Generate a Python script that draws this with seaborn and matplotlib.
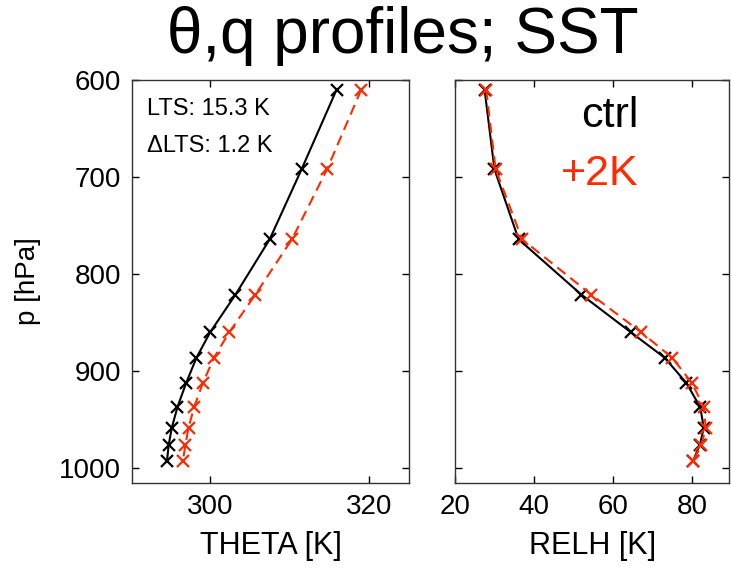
import numpy as np
import pandas as pd
import seaborn as sns
from matplotlib import pyplot as plt

# pressure levels [hPa]
p = [610, 692, 764, 821, 860, 886, 912, 937, 958, 976, 992]

theta_ctrl = [315.9, 311.5, 307.5, 303.2, 300.0, 298.3, 297.0, 295.9, 295.2, 294.8, 294.6]
theta_2k = [319.0, 314.7, 310.3, 305.7, 302.4, 300.5, 299.1, 298.0, 297.3, 296.9, 296.6]

relh_ctrl = [27.5, 30.0, 36.1, 52.0, 64.6, 73.1, 78.6, 82.1, 83.0, 82.0, 80.3]
relh_2k = [27.9, 30.3, 37.0, 54.5, 67.2, 75.0, 80.0, 83.0, 83.5, 82.4, 80.3]

red = "#ff2a00"

sns.set_style("ticks")
plt.rcParams["font.family"] = ["Liberation Sans", "DejaVu Sans"]
plt.rcParams["text.color"] = "k"
plt.rcParams["axes.labelcolor"] = "k"
plt.rcParams["xtick.color"] = "k"
plt.rcParams["ytick.color"] = "k"
plt.rcParams["xtick.direction"] = "in"
plt.rcParams["ytick.direction"] = "in"
plt.rcParams["xtick.major.size"] = 5
plt.rcParams["ytick.major.size"] = 5

fig = plt.figure(figsize=(7.31, 5.71), dpi=100)
ax1 = fig.add_axes([0.1806, 0.1541, 0.3789, 0.7058])
ax2 = fig.add_axes([0.6224, 0.1541, 0.3755, 0.7058])

line_kw = dict(marker="x", markersize=9, markeredgewidth=1.6, linewidth=1.5, orient="y")

sns.lineplot(x=theta_ctrl, y=p, ax=ax1, color="k", markeredgecolor="k", **line_kw)
sns.lineplot(x=theta_2k, y=p, ax=ax1, color=red, markeredgecolor=red,
             linestyle=(0, (5, 3)), **line_kw)
sns.lineplot(x=relh_ctrl, y=p, ax=ax2, color="k", markeredgecolor="k", **line_kw)
sns.lineplot(x=relh_2k, y=p, ax=ax2, color=red, markeredgecolor=red,
             linestyle=(0, (5, 3)), **line_kw)

for ax in (ax1, ax2):
    ax.set_ylim(1015, 600)
    ax.set_yticks([600, 700, 800, 900, 1000])
    ax.tick_params(top=True, right=True, labelsize=20, width=1, pad=8)
    for s in ax.spines.values():
        s.set_linewidth(1.0)
        s.set_color("#333333")

ax1.set_xlim(290.2, 325)
ax1.set_xticks([300, 320])
ax1.set_xlabel("THETA [K]", fontsize=22, labelpad=8)
ax1.set_ylabel("p [hPa]", fontsize=20)
ax1.yaxis.set_label_coords(-0.33, 0.5)

ax2.set_xlim(20, 89.5)
ax2.set_xticks([20, 40, 60, 80])
ax2.tick_params(labelleft=False)
ax2.set_xlabel("RELH [K]", fontsize=22, labelpad=8)
ax2.set_ylabel("")

ax1.text(0.054, 0.913, "LTS: 15.3 K", transform=ax1.transAxes, fontsize=17, va="baseline")
ax1.text(0.054, 0.821, "\u0394LTS: 1.2 K", transform=ax1.transAxes, fontsize=17, va="baseline")

ax2.text(0.67, 0.883, "ctrl", transform=ax2.transAxes, fontsize=31, ha="right", va="baseline", color="k")
ax2.text(0.67, 0.739, "+2K", transform=ax2.transAxes, fontsize=31, ha="right", va="baseline", color=red)

fig.text(0.551, 0.907, "\u03b8,q profiles; SST", fontsize=46, ha="center", va="baseline")

fig.savefig("out.png", dpi=100)
